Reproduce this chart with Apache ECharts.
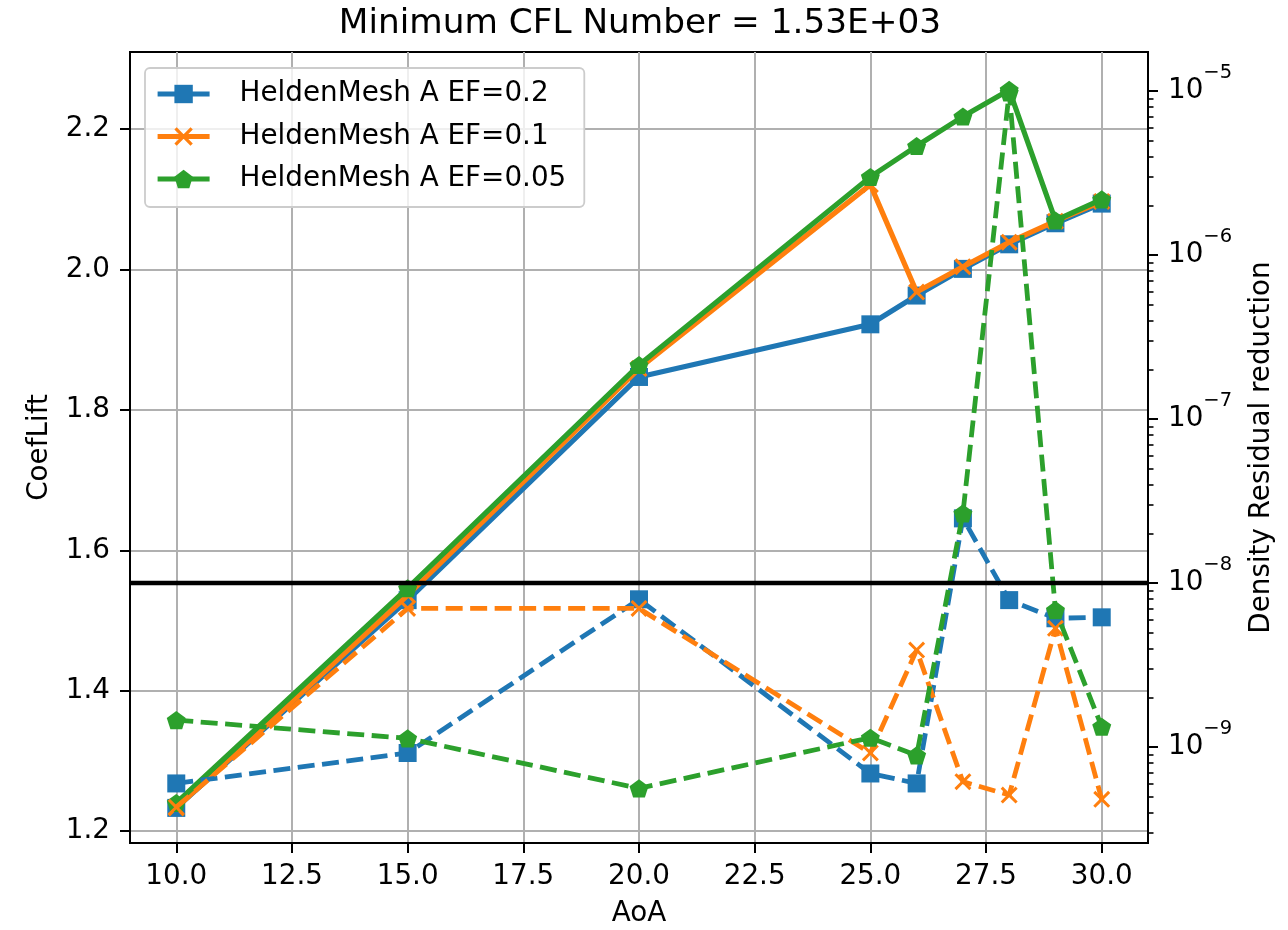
<!DOCTYPE html>
<html>
<head>
<meta charset="utf-8">
<script src="https://cdn.jsdelivr.net/npm/echarts@6/dist/echarts.min.js"></script>
<style>
  html, body { margin: 0; padding: 0; background: #fff; }
  #chart { width: 1288px; height: 930px; }
</style>
</head>
<body>
<div id="chart"></div>
<script>
// Angle of attack sweep
const aoa = [10, 15, 20, 25, 26, 27, 28, 29, 30];

// Lift coefficient per mesh refinement (left axis)
const liftEF020 = [1.233, 1.529, 1.847, 1.922, 1.963, 2.001, 2.036, 2.066, 2.094];
const liftEF010 = [1.233, 1.536, 1.859, 2.121, 1.968, 2.004, 2.039, 2.069, 2.097];
const liftEF005 = [1.240, 1.546, 1.864, 2.132, 2.176, 2.218, 2.256, 2.070, 2.100];

// Density residual reduction per mesh refinement (right axis, log)
const residEF020 = [6.0e-10, 9.2e-10, 7.96e-9, 6.9e-10, 6.0e-10, 2.48e-8, 7.87e-9, 6.1e-9, 6.18e-9];
const residEF010 = [4.3e-10, 7.0e-9, 7.0e-9, 9.2e-10, 3.9e-9, 6.15e-10, 5.1e-10, 5.3e-9, 4.8e-10];
const residEF005 = [1.46e-9, 1.13e-9, 5.6e-10, 1.14e-9, 8.9e-10, 2.66e-8, 9.8e-6, 6.84e-9, 1.33e-9];

// Convergence threshold drawn across the plot
const residThreshold = 1e-8;

const seriesNames = ['HeldenMesh A EF=0.2', 'HeldenMesh A EF=0.1', 'HeldenMesh A EF=0.05'];
const titleText = 'Minimum CFL Number = 1.53E+03';

// Tick positions
const aoaTicks = [10, 12.5, 15, 17.5, 20, 22.5, 25, 27.5, 30];
const liftTicks = [1.2, 1.4, 1.6, 1.8, 2.0, 2.2];
const residMajorTicks = [1e-9, 1e-8, 1e-7, 1e-6, 1e-5];

const FONT = 'DejaVu Sans';
const BLUE = '#1f77b4', ORANGE = '#ff7f0e', GREEN = '#2ca02c';

// Axis ranges
const xRange = [9, 31];
const liftRange = [1.183, 2.31];
const residRange = [2.6e-10, 1.73e-5];

// Minor log ticks (2..9 within each decade) inside the residual range
const residMinorTicks = [];
for (let e = -10; e <= -5; e++) {
  for (let m = 2; m <= 9; m++) {
    const v = m * Math.pow(10, e);
    if (v >= residRange[0] && v <= residRange[1]) residMinorTicks.push(v);
  }
}

const SYM_X = 'path://M0,1.25L1.25,0L5,3.75L8.75,0L10,1.25L6.25,5L10,8.75L8.75,10L5,6.25L1.25,10L0,8.75L3.75,5Z';
const SYM_PENT = 'path://M100,0L195.1,69.1L158.8,180.9L41.2,180.9L4.9,69.1Z';

const markers = [
  { symbol: 'rect', size: 18, keep: false },
  { symbol: SYM_X, size: 17, keep: false },
  { symbol: SYM_PENT, size: 19, keep: true }
];
const colors = [BLUE, ORANGE, GREEN];
const liftSets = [liftEF020, liftEF010, liftEF005];
const residSets = [residEF020, residEF010, residEF005];

const pairs = (ys) => aoa.map((x, i) => [x, ys[i]]);

const series = [];
liftSets.forEach((ys, k) => {
  series.push({
    type: 'line',
    name: seriesNames[k],
    xAxisIndex: 0,
    yAxisIndex: 0,
    data: pairs(ys),
    symbol: markers[k].symbol,
    symbolSize: markers[k].size,
    symbolKeepAspect: markers[k].keep,
    lineStyle: { color: colors[k], width: 5.2 },
    itemStyle: { color: colors[k] },
    emphasis: { disabled: true },
    z: 2 + k * 0.1,
    animation: false
  });
});
residSets.forEach((ys, k) => {
  series.push({
    type: 'line',
    name: seriesNames[k] + ' residual',
    xAxisIndex: 0,
    yAxisIndex: 1,
    data: pairs(ys),
    symbol: markers[k].symbol,
    symbolSize: markers[k].size,
    symbolKeepAspect: markers[k].keep,
    lineStyle: { color: colors[k], width: 4.8, type: [17, 7.5] },
    itemStyle: { color: colors[k] },
    emphasis: { disabled: true },
    z: 3 + k * 0.1,
    animation: false
  });
});
// Horizontal threshold line across the full AoA range
series.push({
  type: 'line',
  name: 'threshold',
  xAxisIndex: 0,
  yAxisIndex: 1,
  data: [[xRange[0], residThreshold], [xRange[1], residThreshold]],
  symbol: 'none',
  lineStyle: { color: '#000', width: 4.6 },
  emphasis: { disabled: true },
  silent: true,
  z: 4,
  animation: false
});

const tickText = { fontFamily: FONT, fontSize: 27.8, color: '#000' };
const nameText = { fontFamily: FONT, fontSize: 27.8, color: '#000' };
const SUP = { '-5': '\u22125', '-6': '\u22126', '-7': '\u22127', '-8': '\u22128', '-9': '\u22129' };

const option = {
  backgroundColor: '#fff',
  animation: false,
  title: {
    text: titleText,
    left: 640,
    textAlign: 'center',
    top: 7,
    padding: 0,
    textStyle: { fontFamily: FONT, fontSize: 34.3, fontWeight: 'normal', color: '#000' }
  },
  legend: {
    data: seriesNames,
    orient: 'vertical',
    left: 145,
    top: 68,
    padding: [11, 18, 13, 10],
    itemWidth: 52,
    itemHeight: 23,
    itemGap: 12.5,
    selectedMode: false,
    backgroundColor: 'rgba(255,255,255,0.8)',
    borderColor: '#cccccc',
    borderWidth: 1.8,
    borderRadius: 5,
    lineStyle: { width: 5.2 },
    textStyle: { fontFamily: FONT, fontSize: 27.8, color: '#000', lineHeight: 30, padding: [0, 0, 0, 25] }
  },
  grid: {
    left: 130, top: 52, width: 1018, height: 791,
    containLabel: false,
    outerBoundsMode: 'none',
    show: true, borderColor: '#000', borderWidth: 2, backgroundColor: 'transparent'
  },
  xAxis: [{
    type: 'value',
    min: xRange[0], max: xRange[1],
    name: 'AoA', nameLocation: 'middle', nameGap: 57, nameTextStyle: nameText,
    axisLine: { show: true, lineStyle: { color: '#000', width: 2 } },
    axisTick: { show: true, customValues: aoaTicks, length: 10, lineStyle: { color: '#000', width: 2 } },
    axisLabel: { customValues: aoaTicks, formatter: v => v.toFixed(1), margin: 20, ...tickText },
    splitLine: { show: true, lineStyle: { color: '#b0b0b0', width: 2 } }
  }],
  yAxis: [{
    type: 'value',
    position: 'left',
    min: liftRange[0], max: liftRange[1],
    name: 'CoefLift', nameLocation: 'middle', nameGap: 76, nameTextStyle: nameText,
    axisLine: { show: true, lineStyle: { color: '#000', width: 2 } },
    axisTick: { show: true, customValues: liftTicks, length: 10, lineStyle: { color: '#000', width: 2 } },
    axisLabel: { customValues: liftTicks, formatter: v => v.toFixed(1), margin: 20, ...tickText },
    splitLine: { show: true, lineStyle: { color: '#b0b0b0', width: 2 } }
  }, {
    type: 'log',
    position: 'right',
    min: residRange[0], max: residRange[1],
    name: 'Density Residual reduction', nameLocation: 'middle', nameGap: 100, nameTextStyle: nameText,
    axisLine: { show: true, lineStyle: { color: '#000', width: 2 } },
    axisTick: { show: true, customValues: residMajorTicks, length: 10, lineStyle: { color: '#000', width: 2 } },
    axisLabel: {
      customValues: residMajorTicks,
      margin: 20,
      formatter: v => '{b|10}{s|' + SUP[String(Math.round(Math.log10(v)))] + '}',
      rich: {
        b: { fontFamily: FONT, fontSize: 27.8, color: '#000', lineHeight: 56, verticalAlign: 'middle' },
        s: { fontFamily: FONT, fontSize: 19.5, color: '#000', lineHeight: 26, verticalAlign: 'top' }
      }
    },
    splitLine: { show: false }
  }, {
    type: 'log',
    position: 'right',
    min: residRange[0], max: residRange[1],
    axisLine: { show: false },
    axisTick: { show: true, customValues: residMinorTicks, length: 5.5, lineStyle: { color: '#000', width: 1.6 } },
    axisLabel: { show: false },
    splitLine: { show: false }
  }],
  series: series
};

const chart = echarts.init(document.getElementById('chart'), null, { renderer: 'canvas' });
chart.setOption(option);
</script>
</body>
</html>
